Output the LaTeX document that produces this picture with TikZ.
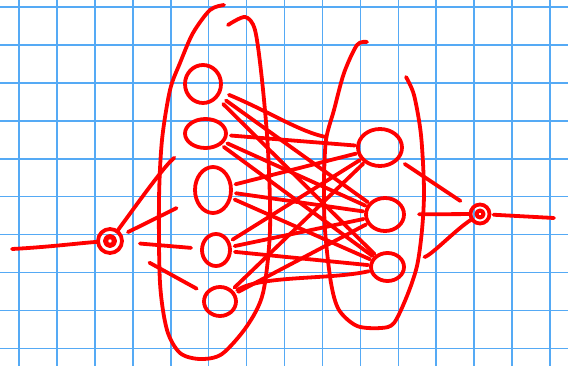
\documentclass[tikz,border=0pt]{standalone}
\usepackage{tikz}
\usetikzlibrary{shapes.geometric}
\definecolor{gridblue}{RGB}{85,170,245}
\definecolor{ink}{RGB}{255,0,0}

\begin{document}
\begin{tikzpicture}[
  x=1pt, y=-1pt,
  gridline/.style={gridblue, line width=1.6pt},
  pen/.style={ink, line width=3.8pt, line cap=round, line join=round},
  unit/.style={pen, draw, ellipse, inner sep=0pt, outer sep=0pt},
  dot/.style={pen, draw, circle, inner sep=0pt, outer sep=0pt, minimum size=#1},
  wire/.style={pen, shorten <=5pt, shorten >=3pt},
]
\useasboundingbox (0,0) rectangle (568,366);
\fill[white] (0,0) rectangle (568,366);
\foreach \k in {0,...,14} \draw[gridline] ({19+37.93*\k},0) -- ({19+37.93*\k},366);
\foreach \k in {0,...,9} \draw[gridline] (0,{7+37.93*\k}) -- (568,{7+37.93*\k});

% layer outlines
\draw[pen] plot[smooth] coordinates {(228,25) (245,17) (255,30) (262,80) (268,150)
  (270,230) (263,293) (247,326) (222,354) (200,359) (180,353) (167,330) (160,283)
  (159,200) (162,140) (170,90) (180,63) (193,33) (210,10) (224,5)};
\draw[pen] plot[smooth] coordinates {(406,77) (414,95) (421,135) (424,190) (422,230)
  (417,266) (407,296) (394,323) (381,328) (357,326) (339,310) (331,283) (325,230)
  (324,183) (326,140) (334,110) (344,73) (357,45) (367,42)};

% units
\node[dot=24pt] (in) at (110,241) {};
\draw[pen, line width=5pt] (in) circle[radius=4.5];
\node[dot=19pt] (out) at (480,214) {};
\draw[pen, line width=4pt] (out) circle[radius=3.5];

\node[unit, minimum width=36pt, minimum height=38pt] (a1) at (203,84) {};
\node[unit, minimum width=41pt, minimum height=29pt] (a2) at (205.5,133.5) {};
\node[unit, minimum width=36pt, minimum height=46pt] (a3) at (213,190) {};
\node[unit, minimum width=28pt, minimum height=32pt] (a4) at (216,250) {};
\node[unit, minimum width=32pt, minimum height=29pt] (a5) at (220,301.5) {};

\node[unit, minimum width=44pt, minimum height=37pt] (b1) at (380,147.5) {};
\node[unit, minimum width=38pt, minimum height=33pt] (b2) at (385,214.5) {};
\node[unit, minimum width=33pt, minimum height=28pt] (b3) at (387.5,267) {};

\coordinate (src) at (12,249);
\coordinate (dst) at (554,218);

% input side
\draw[pen] (src) .. controls (50,247) and (80,243) .. (in);
\draw[pen, shorten <=2pt, shorten >=22pt] (in) .. controls (140,200) and (165,165) .. (a2);
\draw[pen, shorten <=8pt, shorten >=22pt] (in) -- (a3);
\draw[pen, shorten <=18pt, shorten >=11pt] (in) -- (a4);
\draw[pen, shorten <=33pt, shorten >=11pt] (in) -- (a5);

% between the layers
\draw[wire, shorten <=10pt, shorten >=33pt] (a1) .. controls (270,112) and (300,132) .. (b1);
\draw[wire, shorten <=10pt] (a1) -- (b2);
\draw[wire, shorten <=10pt] (a1) -- (b3);
\draw[wire] (a2) -- (b1);
\draw[wire] (a2) -- (b2);
\draw[wire] (a2) -- (b3);
\draw[wire] (a3) -- (b1);
\draw[wire] (a3) -- (b2);
\draw[wire] (a3) -- (b3);
\draw[wire] (a4) -- (b1);
\draw[wire] (a4) -- (b2);
\draw[wire] (a4) -- (b3);
\draw[wire] (a5) -- (b1);
\draw[wire] (a5) -- (b2);
\draw[wire] (a5) .. controls (260,275) and (330,280) .. (b3);

% output side
\draw[pen, shorten <=9pt, shorten >=14pt] (b1) -- (out);
\draw[pen, shorten <=15pt] (b2) -- (out);
\draw[pen, shorten <=22pt] (b3) .. controls (432,255) and (455,230) .. (out);
\draw[pen, shorten <=4pt] (out) -- (dst);
\end{tikzpicture}
\end{document}
